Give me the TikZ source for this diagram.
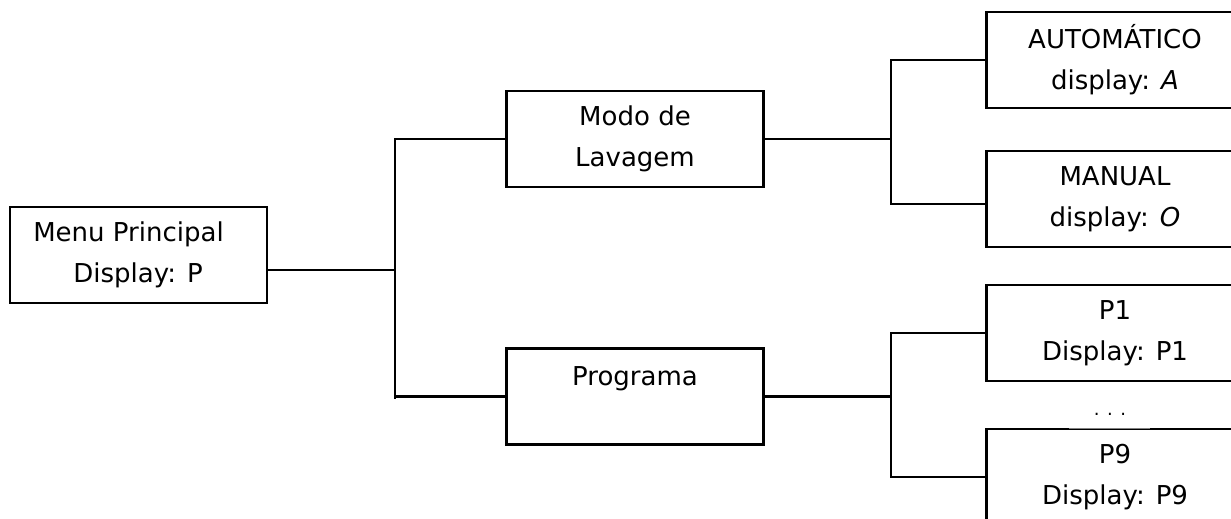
\documentclass[tikz,border=0pt]{standalone}
\usepackage{fontspec}
\setmainfont{DejaVu Sans}
\begin{document}
\begin{tikzpicture}[x=1pt,y=-1pt,
  menubox/.style={draw, line width=2.2pt, minimum width=257pt, minimum height=96pt,
    inner sep=0pt, align=center, font=\fontsize{26}{41}\selectfont},
  link/.style={line width=2.2pt}]
\useasboundingbox (0,0) rectangle (1231,519);
\begin{scope}
\clip (0,0) rectangle (1231,519);

% boxes
\node[menubox, align=left] (menu) at (138.5,255) {Menu Principal\hspace*{20pt}\\\hspace*{40pt}Display: P};
\node[menubox] (modo) at (635,139) {Modo de\\Lavagem};
\node[menubox] (prog) at (635,396.5) {Programa\\\mbox{}};
\node[menubox] (auto) at (1115,60) {AUTOMÁTICO\\display: \textit{A}};
\node[menubox] (manual) at (1115,199) {MANUAL\\display: \textit{O}};
\node[menubox] (p1) at (1115,333) {P1\\Display: P1};
\node[menubox] (p9) at (1115,477) {P9\\Display: P9};
\node[font=\fontsize{18}{20}\selectfont] (dots) at (1110,414) {. . .};
\draw[gray, line width=0.8pt] (1069,428) -- (1150,428);

% first level branches
\coordinate (j1) at (395,270);
\draw[link] ([yshift=-15pt]menu.east) -- (j1);
\draw[link] (modo.west) -| ([yshift=-2pt]j1 |- prog.west);
\draw[link] (j1 |- prog.west) -- (prog.west);

% second level branches
\coordinate (j2) at (891,139);
\draw[link] (modo.east) -- (j2);
\draw[link] (auto.west) -| (j2 |- auto.west) |- ([yshift=-5pt]manual.west);
\draw[link] (prog.east) -- (prog.east -| j2);
\draw[link] (p1.west) -| (j2 |- p1.west) |- (p9.west);
\end{scope}
\end{tikzpicture}
\end{document}
